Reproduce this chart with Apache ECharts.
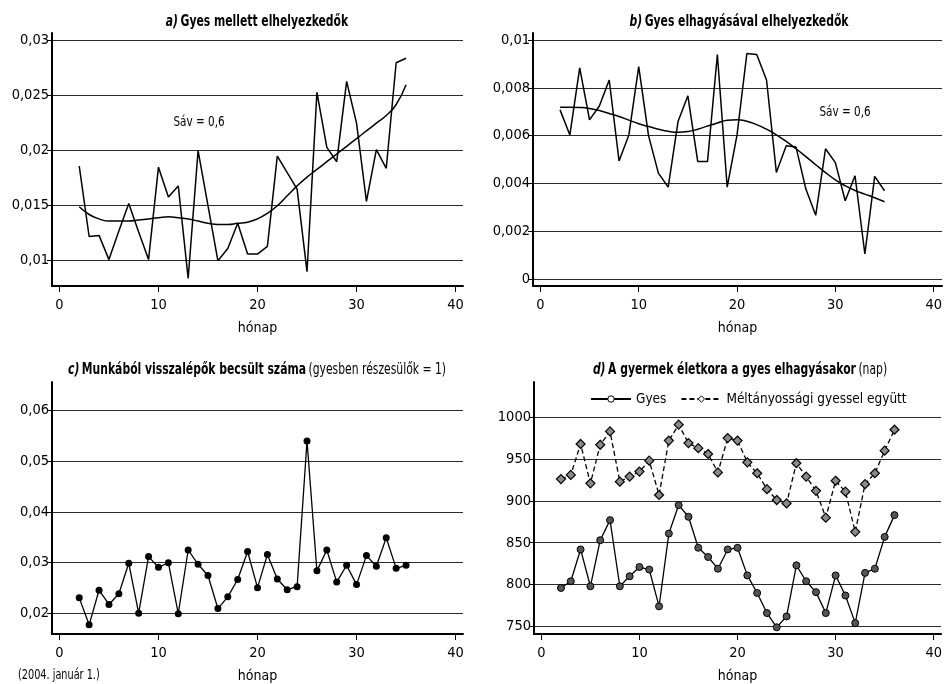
<!DOCTYPE html>
<html><head><meta charset="utf-8">
<script src="https://cdn.jsdelivr.net/npm/echarts@6/dist/echarts.min.js"></script>
<style>html,body{margin:0;padding:0;background:#fff}#c{width:945px;height:684px}</style>
</head><body><div id="c"></div>
<script>
var F = '"Liberation Sans Narrow","DejaVu Sans Condensed","Noto Sans",sans-serif';

// ---- data ----
var monthsA = [2,3,4,5,6,7,8,9,10,11,12,13,14,15,16,17,18,19,20,21,22,23,24,25,26,27,28,29,30,31,32,33,34,35];
var rawA = [0.0186,0.0122,0.0123,0.0101,0.0127,0.0152,0.0126,0.0101,0.0185,0.0158,0.0168,0.0084,0.0200,0.0150,0.0100,0.0111,0.0134,0.0106,0.0106,0.0113,0.0195,0.0180,0.0165,0.0090,0.0253,0.0203,0.0190,0.0263,0.0225,0.0154,0.0201,0.0184,0.0280,0.0284];
var smoothA = [0.0149,0.0142,0.0138,0.0136,0.0136,0.0136,0.0137,0.0138,0.0139,0.0140,0.0139,0.0138,0.0136,0.0134,0.0133,0.0133,0.0134,0.0135,0.0138,0.0143,0.0150,0.0159,0.0168,0.0176,0.0183,0.0190,0.0197,0.0204,0.0211,0.0218,0.0225,0.0232,0.0242,0.0260];

var monthsB = [2,3,4,5,6,7,8,9,10,11,12,13,14,15,16,17,18,19,20,21,22,23,24,25,26,27,28,29,30,31,32,33,34,35];
var rawB = [0.00708,0.00603,0.00884,0.00666,0.00724,0.00833,0.00494,0.00603,0.00889,0.00600,0.00443,0.00384,0.00659,0.00767,0.00492,0.00492,0.00940,0.00384,0.00603,0.00944,0.00940,0.00833,0.00446,0.00558,0.00552,0.00376,0.00266,0.00545,0.00487,0.00327,0.00432,0.00104,0.00429,0.00369];
var smoothB = [0.00719,0.00719,0.00718,0.00714,0.00705,0.00693,0.00680,0.00665,0.00650,0.00638,0.00627,0.00618,0.00614,0.00617,0.00627,0.00640,0.00653,0.00664,0.00667,0.00660,0.00646,0.00627,0.00603,0.00576,0.00545,0.00512,0.00478,0.00445,0.00415,0.00390,0.00370,0.00355,0.00340,0.00323];

var monthsC = [2,3,4,5,6,7,8,9,10,11,12,13,14,15,16,17,18,19,20,21,22,23,24,25,26,27,28,29,30,31,32,33,34,35];
var valuesC = [0.0231,0.0178,0.0246,0.0218,0.0239,0.0299,0.0201,0.0312,0.0291,0.0300,0.0200,0.0325,0.0297,0.0275,0.0210,0.0233,0.0267,0.0322,0.0251,0.0316,0.0268,0.0247,0.0253,0.0539,0.0284,0.0325,0.0262,0.0295,0.0257,0.0314,0.0293,0.0349,0.0289,0.0295];

var monthsD = [2,3,4,5,6,7,8,9,10,11,12,13,14,15,16,17,18,19,20,21,22,23,24,25,26,27,28,29,30,31,32,33,34,35,36];
var gyesD = [796,804,842,798,853,877,798,810,821,818,774,861,895,881,844,833,819,842,844,811,790,766,749,762,823,804,791,766,811,787,754,814,819,857,883];
var meltD = [926,931,968,921,967,983,923,929,935,948,907,972,991,969,963,956,934,975,972,946,933,914,901,897,945,929,912,880,924,911,863,920,933,960,985];

var xTicks = [0, 10, 20, 30, 40];
var yTicksA = [0.01, 0.015, 0.02, 0.025, 0.03];
var yTicksB = [0, 0.002, 0.004, 0.006, 0.008, 0.01];
var yTicksC = [0.02, 0.03, 0.04, 0.05, 0.06];
var yTicksD = [750, 800, 850, 900, 950, 1000];
var legendNames = ['Gyes', 'Méltányossági gyessel együtt'];

function pairs(xs, ys) { return xs.map(function (x, i) { return [x, ys[i]]; }); }
function fmt(v) { return String(+(+v).toFixed(5)).replace('.', ','); }

var FS = 14.5;
function xAx(gi, max) {
  return {
    type: 'value', gridIndex: gi, min: -0.75, max: max,
    axisLine: { show: true, onZero: false, lineStyle: { color: '#000', width: 2 } },
    axisTick: { show: true, length: 6, customValues: xTicks, lineStyle: { color: '#000', width: 1 } },
    axisLabel: { customValues: xTicks, margin: 12, fontSize: FS, color: '#000', fontFamily: F },
    splitLine: { show: false },
    name: 'hónap', nameLocation: 'middle', nameGap: 35,
    nameTextStyle: { fontSize: 14, color: '#000', fontFamily: F }
  };
}
function yAx(gi, min, max, ticks) {
  return {
    type: 'value', gridIndex: gi, min: min, max: max,
    axisLine: { show: true, onZero: false, lineStyle: { color: '#000', width: 2 } },
    axisTick: { show: true, length: 5, customValues: ticks, lineStyle: { color: '#000', width: 1 } },
    axisLabel: { customValues: ticks, margin: 3, fontSize: FS, color: '#000', fontFamily: F, formatter: fmt },
    splitLine: { show: true, lineStyle: { color: '#2a2a2a', width: 1 } }
  };
}
var blackLine = { color: '#000', width: 1.5 };

function ttl(x, y, text) {
  return { type: 'text', x: x, y: y, scaleX: 0.75, style: { text: text, align: 'center', verticalAlign: 'middle',
    rich: { i: { fontStyle: 'italic', fontWeight: 'bold', fontSize: 16, fontFamily: F },
            b: { fontWeight: 'bold', fontSize: 16, fontFamily: F },
            n: { fontSize: 16, fontFamily: F } } } };
}
function note(x, y, text, size, align) {
  return { type: 'text', x: x, y: y, scaleX: 0.8, style: { text: text, align: align || 'center', verticalAlign: 'middle', fontSize: size, fontFamily: F, fill: '#000' } };
}

var option = {
  animation: false,
  backgroundColor: '#fff',
  grid: [
    { left: 52, top: 33, width: 411, height: 253 },
    { left: 533, top: 33, width: 412, height: 253 },
    { left: 52, top: 382, width: 411, height: 252 },
    { left: 534, top: 382, width: 411, height: 253 }
  ],
  xAxis: [xAx(0, 40.75), xAx(1, 40.85), xAx(2, 40.75), xAx(3, 40.75)],
  yAxis: [
    yAx(0, 0.0077, 0.0307, yTicksA),
    yAx(1, -0.0003, 0.0103, yTicksB),
    yAx(2, 0.016, 0.0655, yTicksC),
    yAx(3, 741, 1042, yTicksD)
  ],
  legend: {
    orient: 'horizontal', left: 590, top: 392, width: 355, itemWidth: 40, itemHeight: 8, itemGap: 14, padding: 0,
    textStyle: { fontSize: 13.5, color: '#000', fontFamily: F },
    data: [
      { name: legendNames[0], itemStyle: { color: '#fff', borderColor: '#000', borderWidth: 1 } },
      { name: legendNames[1], itemStyle: { color: '#fff', borderColor: '#000', borderWidth: 1 } }
    ]
  },
  series: [
    { type: 'line', xAxisIndex: 0, yAxisIndex: 0, data: pairs(monthsA, rawA), symbol: 'none', lineStyle: blackLine },
    { type: 'line', xAxisIndex: 0, yAxisIndex: 0, data: pairs(monthsA, smoothA), symbol: 'none', smooth: true, lineStyle: blackLine },
    { type: 'line', xAxisIndex: 1, yAxisIndex: 1, data: pairs(monthsB, rawB), symbol: 'none', lineStyle: blackLine },
    { type: 'line', xAxisIndex: 1, yAxisIndex: 1, data: pairs(monthsB, smoothB), symbol: 'none', smooth: true, lineStyle: blackLine },
    { type: 'line', xAxisIndex: 2, yAxisIndex: 2, data: pairs(monthsC, valuesC), symbol: 'circle', symbolSize: 7,
      itemStyle: { color: '#000' }, lineStyle: { color: '#000', width: 1.3 } },
    { name: legendNames[0], type: 'line', xAxisIndex: 3, yAxisIndex: 3, data: pairs(monthsD, gyesD), symbol: 'circle', symbolSize: 7,
      itemStyle: { color: '#555', borderColor: '#000', borderWidth: 1 }, lineStyle: { color: '#000', width: 1.3 } },
    { name: legendNames[1], type: 'line', xAxisIndex: 3, yAxisIndex: 3, data: pairs(monthsD, meltD), symbol: 'diamond', symbolSize: 9,
      itemStyle: { color: '#8a8a8a', borderColor: '#000', borderWidth: 1.2 }, lineStyle: { color: '#000', width: 1.3, type: [5, 3] } }
  ],
  graphic: [
    ttl(257, 22, '{i|a)} {b|Gyes mellett elhelyezkedők}'),
    ttl(739, 22, '{i|b)} {b|Gyes elhagyásával elhelyezkedők}'),
    ttl(257, 370, '{i|c)} {b|Munkából visszalépők becsült száma} {n|(gyesben részesülők = 1)}'),
    ttl(740, 370, '{i|d)} {b|A gyermek életkora a gyes elhagyásakor} {n|(nap)}'),
    note(199, 122, 'Sáv = 0,6', 14.5),
    note(845, 112, 'Sáv = 0,6', 14.5),
    note(18, 675, '(2004. január 1.)', 13.5, 'left')
  ]
};
var chart = echarts.init(document.getElementById('c'), null, { renderer: 'canvas' });
chart.setOption(option);
</script></body></html>
